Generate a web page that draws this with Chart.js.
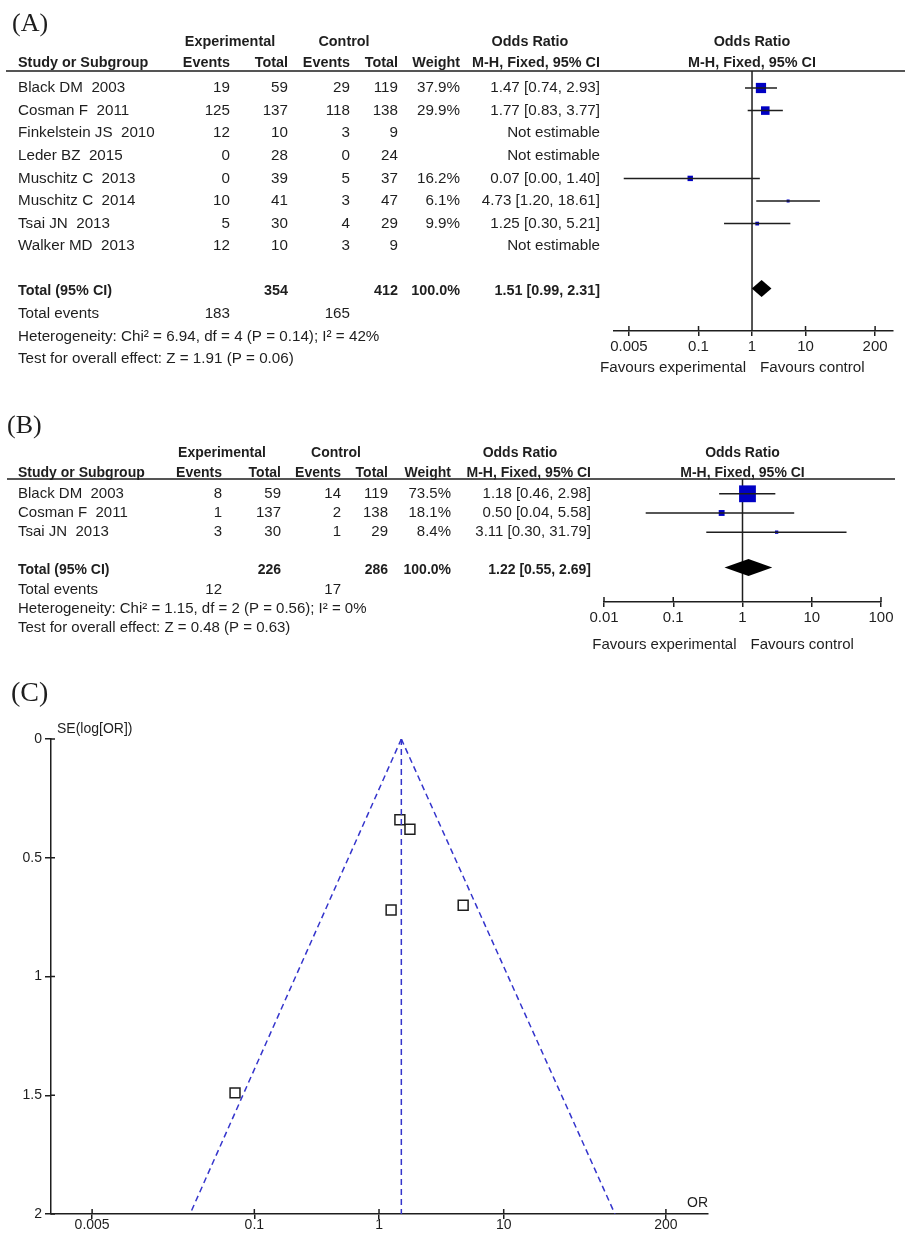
<!DOCTYPE html>
<html>
<head>
<meta charset="utf-8">
<script src="https://cdn.jsdelivr.net/npm/chart.js@4.4.1/dist/chart.umd.min.js"></script>
<style>
  html, body { margin: 0; padding: 0; background: #fff; }
  #wrap { position: relative; width: 913px; height: 1239px; }
  canvas { position: absolute; left: 0; }
</style>
</head>
<body>
<div id="wrap">
  <canvas id="chartA" width="913" height="395" style="top:0px"></canvas>
  <canvas id="chartB" width="913" height="265" style="top:395px"></canvas>
  <canvas id="chartC" width="913" height="579" style="top:660px"></canvas>
</div>
<script>
// ---- panel A: all fractures ----
const studiesA = ["Black DM  2003", "Cosman F  2011", "Finkelstein JS  2010", "Leder BZ  2015",
  "Muschitz C  2013", "Muschitz C  2014", "Tsai JN  2013", "Walker MD  2013"];
const expEventsA = [19, 125, 12, 0, 0, 10, 5, 12];
const expTotalA = [59, 137, 10, 28, 39, 41, 30, 10];
const ctlEventsA = [29, 118, 3, 0, 5, 3, 4, 3];
const ctlTotalA = [119, 138, 9, 24, 37, 47, 29, 9];
const weightA = [37.9, 29.9, null, null, 16.2, 6.1, 9.9, null];
const orA = [1.47, 1.77, null, null, 0.07, 4.73, 1.25, null];
const loA = [0.74, 0.83, null, null, 0.004, 1.20, 0.30, null];
const hiA = [2.93, 3.77, null, null, 1.40, 18.61, 5.21, null];
const pooledA = [1.51, 0.99, 2.31];      // OR, lower, upper
const totalsA = [354, 412];
const totalEventsA = [183, 165];
const hetA = "Heterogeneity: Chi\u00b2 = 6.94, df = 4 (P = 0.14); I\u00b2 = 42%";
const testA = "Test for overall effect: Z = 1.91 (P = 0.06)";
const ticksA = [0.005, 0.1, 1, 10, 200];

// ---- panel B ----
const studiesB = ["Black DM  2003", "Cosman F  2011", "Tsai JN  2013"];
const expEventsB = [8, 1, 3];
const expTotalB = [59, 137, 30];
const ctlEventsB = [14, 2, 1];
const ctlTotalB = [119, 138, 29];
const weightB = [73.5, 18.1, 8.4];
const orB = [1.18, 0.50, 3.11];
const loB = [0.46, 0.04, 0.30];
const hiB = [2.98, 5.58, 31.79];
const pooledB = [1.22, 0.55, 2.69];
const totalsB = [226, 286];
const totalEventsB = [12, 17];
const hetB = "Heterogeneity: Chi\u00b2 = 1.15, df = 2 (P = 0.56); I\u00b2 = 0%";
const testB = "Test for overall effect: Z = 0.48 (P = 0.63)";
const ticksB = [0.01, 0.1, 1, 10, 100];

// ---- panel C: funnel plot ----
const funnelOR = [1.47, 1.77, 0.07, 4.73, 1.25];
const funnelSE = [0.34, 0.38, 1.49, 0.70, 0.72];
const funnelCentre = [{x: 1.51, y: 0}, {x: 1.51, y: 2}];
const funnelLeft = [{x: 1.51, y: 0}, {x: 0.0305, y: 2}];
const funnelRight = [{x: 1.51, y: 0}, {x: 78, y: 2}];
const ticksC = [0.005, 0.1, 1, 10, 200];
const seTicks = [0, 0.5, 1, 1.5, 2];

const FONT = '"Liberation Sans", Arial, sans-serif';
const SERIF = '"Liberation Serif", "Times New Roman", serif';
const INK = '#1e1e1e';
const BLUE = '#0000c4';

Chart.defaults.animation = false;
Chart.defaults.responsive = false;
Chart.defaults.events = [];
Chart.defaults.plugins.legend.display = false;
Chart.defaults.plugins.tooltip.enabled = false;

const fmt = v => v.toFixed(2);

function makeForest(id, d, L) {
  const n = d.studies.length;
  const est = d.studies.map((s, i) => i).filter(i => d.or[i] != null);

  const datasets = est.map(i => ({
    data: [{x: d.lo[i], y: i}, {x: d.hi[i], y: i}],
    showLine: true, borderColor: INK, borderWidth: 1.5, pointRadius: 0
  }));
  datasets.push({
    data: est.map(i => ({x: d.or[i], y: i})),
    pointStyle: 'rect',
    // box side grows with study weight
    pointRadius: est.map(i => Math.max(3, 0.67 * Math.pow(d.weight[i], 0.75)) / Math.SQRT2),
    backgroundColor: BLUE, borderWidth: 0
  });

  const tablePlugin = {
    id: 'table' + id,
    beforeDatasetsDraw(chart) {
      const {ctx, chartArea, scales: {x}} = chart;
      const x1 = x.getPixelForValue(1);
      ctx.save();
      ctx.strokeStyle = INK;
      ctx.lineWidth = 1.5;
      ctx.beginPath();
      ctx.moveTo(x1, chartArea.top);
      ctx.lineTo(x1, chartArea.bottom);
      ctx.moveTo(L.line[0], chartArea.top);
      ctx.lineTo(L.line[1], chartArea.top);
      // tick stubs above the axis
      x.ticks.forEach(t => {
        const px = x.getPixelForValue(t.value);
        ctx.moveTo(px, chartArea.bottom);
        ctx.lineTo(px, chartArea.bottom - 5);
      });
      ctx.stroke();
      ctx.restore();
    },
    afterDraw(chart) {
      const {ctx, chartArea, scales: {x, y}} = chart;
      const x1 = x.getPixelForValue(1);
      ctx.save();
      ctx.fillStyle = INK;
      ctx.textBaseline = 'middle';
      const t = (s, px, py, align, bold) => {
        ctx.font = bold ? `bold ${L.bold}px ${FONT}` : `${L.body}px ${FONT}`;
        ctx.textAlign = align;
        ctx.fillText(String(s), px, py);
      };

      // panel letter
      ctx.font = `${L.tagSize}px ${SERIF}`;
      ctx.textAlign = 'left';
      ctx.textBaseline = 'alphabetic';
      ctx.fillText(L.tag, L.tagX, L.tagY);
      ctx.textBaseline = 'middle';

      // headers
      t('Experimental', L.expC, L.h1, 'center', true);
      t('Control', L.ctlC, L.h1, 'center', true);
      t('Odds Ratio', L.orC, L.h1, 'center', true);
      t('Odds Ratio', x1, L.h1, 'center', true);
      t('Study or Subgroup', L.name, L.h2, 'left', true);
      t('Events', L.c[0], L.h2, 'right', true);
      t('Total', L.c[1], L.h2, 'right', true);
      t('Events', L.c[2], L.h2, 'right', true);
      t('Total', L.c[3], L.h2, 'right', true);
      t('Weight', L.c[4], L.h2, 'right', true);
      t('M-H, Fixed, 95% CI', L.c[5], L.h2, 'right', true);
      t('M-H, Fixed, 95% CI', x1, L.h2, 'center', true);

      // study rows
      d.studies.forEach((s, i) => {
        const py = y.getPixelForValue(i);
        t(s, L.name, py, 'left');
        t(d.expEvents[i], L.c[0], py, 'right');
        t(d.expTotal[i], L.c[1], py, 'right');
        t(d.ctlEvents[i], L.c[2], py, 'right');
        t(d.ctlTotal[i], L.c[3], py, 'right');
        if (d.weight[i] != null) t(d.weight[i].toFixed(1) + '%', L.c[4], py, 'right');
        t(d.or[i] != null ? `${fmt(d.or[i])} [${fmt(d.lo[i])}, ${fmt(d.hi[i])}]` : 'Not estimable',
          L.c[5], py, 'right');
      });

      // totals
      const ty = y.getPixelForValue(n + 1);
      t('Total (95% CI)', L.name, ty, 'left', true);
      t(d.totals[0], L.c[1], ty, 'right', true);
      t(d.totals[1], L.c[3], ty, 'right', true);
      t('100.0%', L.c[4], ty, 'right', true);
      t(`${fmt(d.pooled[0])} [${fmt(d.pooled[1])}, ${fmt(d.pooled[2])}]`, L.c[5], ty, 'right', true);
      const ey = y.getPixelForValue(n + 2);
      t('Total events', L.name, ey, 'left');
      t(d.totalEvents[0], L.c[0], ey, 'right');
      t(d.totalEvents[1], L.c[2], ey, 'right');
      t(d.het, L.name, y.getPixelForValue(n + 3), 'left');
      t(d.test, L.name, y.getPixelForValue(n + 4), 'left');

      // pooled diamond
      ctx.fillStyle = '#000';
      ctx.beginPath();
      ctx.moveTo(x.getPixelForValue(d.pooled[1]), ty - 3);
      ctx.lineTo(x.getPixelForValue(d.pooled[0]), ty - 11.5);
      ctx.lineTo(x.getPixelForValue(d.pooled[2]), ty - 3);
      ctx.lineTo(x.getPixelForValue(d.pooled[0]), ty + 5.5);
      ctx.closePath();
      ctx.fill();

      // favours labels
      ctx.fillStyle = INK;
      t('Favours experimental', x1 - 6, L.fav, 'right');
      t('Favours control', x1 + 8, L.fav, 'left');
      ctx.restore();
    }
  };

  return new Chart(document.getElementById(id), {
    type: 'scatter',
    data: {datasets},
    options: {
      layout: {padding: L.pad},
      scales: {
        x: {
          type: 'logarithmic', bounds: 'data', min: L.xmin, max: L.xmax,
          afterBuildTicks: s => { s.ticks = d.ticks.map(v => ({value: v})); },
          afterFit: s => { s.height = 50; },
          ticks: {callback: v => String(v), color: INK, font: {family: FONT, size: 15},
                  padding: 2, autoSkip: false, maxRotation: 0},
          grid: {drawOnChartArea: false, tickLength: 5, color: INK, lineWidth: 1.5},
          border: {color: INK, width: 1.5}
        },
        y: {type: 'linear', display: false, reverse: true, bounds: 'data', min: L.ymin, max: L.ymax}
      }
    },
    plugins: [tablePlugin]
  });
}

makeForest('chartA', {
  studies: studiesA, expEvents: expEventsA, expTotal: expTotalA, ctlEvents: ctlEventsA,
  ctlTotal: ctlTotalA, weight: weightA, or: orA, lo: loA, hi: hiA, pooled: pooledA,
  totals: totalsA, totalEvents: totalEventsA, het: hetA, test: testA, ticks: ticksA
}, {
  pad: {left: 614, right: 20, top: 71, bottom: 14},
  xmin: 0.00263, xmax: 432, ymin: -0.752, ymax: 10.752,
  name: 18, c: [230, 288, 350, 398, 460, 600], expC: 230, ctlC: 344, orC: 530,
  h1: 42, h2: 63, line: [6, 905], fav: 368, body: 15.2, bold: 14.4,
  tag: '(A)', tagX: 12, tagY: 31, tagSize: 26
});

makeForest('chartB', {
  studies: studiesB, expEvents: expEventsB, expTotal: expTotalB, ctlEvents: ctlEventsB,
  ctlTotal: ctlTotalB, weight: weightB, or: orB, lo: loB, hi: hiB, pooled: pooledB,
  totals: totalsB, totalEvents: totalEventsB, het: hetB, test: testB, ticks: ticksB
}, {
  pad: {left: 604, right: 32, top: 84, bottom: 8},
  xmin: 0.01, xmax: 100, ymin: -0.771, ymax: 5.639,
  name: 18, c: [222, 281, 341, 388, 451, 591], expC: 222, ctlC: 336, orC: 520,
  h1: 58, h2: 78, line: [7, 895], fav: 250, body: 15, bold: 14,
  tag: '(B)', tagX: 7, tagY: 38, tagSize: 26
});

// ---- funnel plot ----
const funnelPlugin = {
  id: 'funnelText',
  afterDraw(chart) {
    const {ctx, chartArea, scales: {x, y}} = chart;
    ctx.save();
    ctx.strokeStyle = INK;
    ctx.lineWidth = 1.5;
    ctx.beginPath();
    x.ticks.forEach(t => {
      const px = x.getPixelForValue(t.value);
      ctx.moveTo(px, chartArea.bottom);
      ctx.lineTo(px, chartArea.bottom - 5);
    });
    y.ticks.forEach(t => {
      const py = y.getPixelForValue(t.value);
      ctx.moveTo(chartArea.left, py);
      ctx.lineTo(chartArea.left + 4, py);
    });
    ctx.stroke();
    ctx.fillStyle = INK;
    ctx.font = `28px ${SERIF}`;
    ctx.textAlign = 'left';
    ctx.fillText('(C)', 11, 41);
    ctx.font = `14px ${FONT}`;
    ctx.textBaseline = 'middle';
    ctx.fillText('SE(log[OR])', chartArea.left + 6, chartArea.top - 10);
    ctx.textAlign = 'right';
    ctx.fillText('OR', chartArea.right, chartArea.bottom - 11);
    ctx.restore();
  }
};

const dashed = {showLine: true, borderColor: '#3535cc', borderWidth: 1.5, borderDash: [6, 4], pointRadius: 0};

new Chart(document.getElementById('chartC'), {
  type: 'scatter',
  data: {
    datasets: [
      {...dashed, data: funnelLeft},
      {...dashed, data: funnelRight},
      {...dashed, data: funnelCentre},
      {
        data: funnelOR.map((v, i) => ({x: v, y: funnelSE[i]})),
        pointStyle: 'rect', pointRadius: 7, backgroundColor: 'rgba(0,0,0,0)',
        borderColor: INK, borderWidth: 1.5
      }
    ]
  },
  options: {
    layout: {padding: {left: 0, right: 205, top: 79, bottom: 5}},
    scales: {
      x: {
        type: 'logarithmic', bounds: 'data', min: 0.00234, max: 435,
        afterBuildTicks: s => { s.ticks = ticksC.map(v => ({value: v})); },
        afterFit: s => { s.height = 20; },
        ticks: {callback: v => String(v), color: INK, font: {family: FONT, size: 14},
                padding: -2, autoSkip: false, maxRotation: 0},
        grid: {drawOnChartArea: false, tickLength: 5, color: INK, lineWidth: 1.5},
        border: {color: INK, width: 1.5}
      },
      y: {
        type: 'linear', reverse: true, bounds: 'data', min: 0, max: 2,
        afterBuildTicks: s => { s.ticks = seTicks.map(v => ({value: v})); },
        afterFit: s => { s.width = 51; },
        ticks: {callback: v => String(v), color: INK, font: {family: FONT, size: 14}, padding: 3},
        grid: {drawOnChartArea: false, tickLength: 6, color: INK, lineWidth: 1.5},
        border: {color: INK, width: 1.5}
      }
    }
  },
  plugins: [funnelPlugin]
});
</script>
</body>
</html>
